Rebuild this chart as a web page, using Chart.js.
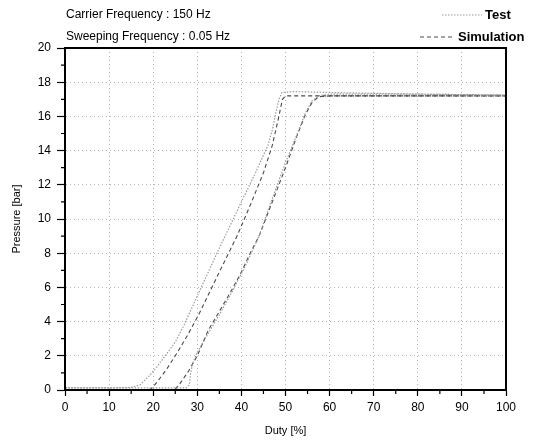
<!DOCTYPE html>
<html>
<head>
<meta charset="utf-8">
<script src="https://cdn.jsdelivr.net/npm/chart.js@4"></script>
<style>
  html, body { margin: 0; padding: 0; background: #fff; }
  #wrap { width: 537px; height: 440px; }
</style>
</head>
<body>
<div id="wrap"><canvas id="pressure-chart" width="537" height="440"></canvas></div>
<script>
const testUpDuty = [0, 10, 15, 17, 19, 21, 23, 25, 27, 30, 35, 40, 43, 46, 47, 47.8, 48.5, 49.2, 52, 60, 80, 100];
const testUpPressure = [0.12, 0.12, 0.15, 0.3, 0.8, 1.4, 2.1, 2.8, 3.8, 5.5, 8.3, 11.0, 12.6, 14.3, 15.2, 16.2, 17.0, 17.4, 17.45, 17.4, 17.3, 17.25];
const testDownDuty = [100, 80, 60, 57.5, 56, 54.5, 53, 50, 47, 44, 41, 38, 35, 32, 30, 29, 28.5, 28.2, 27.5, 0];
const testDownPressure = [17.25, 17.3, 17.3, 17.2, 16.9, 16.2, 15.2, 13.3, 11.2, 9.0, 7.3, 5.8, 4.4, 3.1, 2.2, 1.6, 1.0, 0.3, 0.12, 0.12];

const simUpDuty = [0, 18, 19.5, 21, 23, 25.5, 28, 30.5, 35, 39, 42, 45, 47, 48.5, 49.3, 50, 60, 100];
const simUpPressure = [0, 0, 0.05, 0.5, 1.2, 2.2, 3.3, 4.5, 6.9, 9.0, 10.8, 12.7, 14.3, 16.0, 17.0, 17.2, 17.2, 17.2];
const simDownDuty = [100, 60, 57.5, 56, 54.5, 52.5, 50, 47, 44, 42, 40, 37.5, 35, 32.5, 30, 28, 26, 25, 24, 0];
const simDownPressure = [17.2, 17.2, 17.15, 16.8, 16.1, 14.8, 13.0, 11.0, 9.0, 8.0, 6.9, 5.7, 4.6, 3.5, 2.0, 1.1, 0.35, 0.05, 0, 0];

const headerLines = ["Carrier Frequency : 150 Hz", "Sweeping Frequency : 0.05 Hz"];
const legendNames = ["Test", "Simulation"];

const FONT = "'Liberation Sans', Arial, sans-serif";
const testStyle = { color: '#9a9a9a', dash: [1.5, 1.5], width: 1.2 };
const simStyle = { color: '#4a4a4a', dash: [4, 3], width: 1.1 };

function toPoints(xs, ys) {
  return xs.map((x, i) => ({ x: x, y: ys[i] }));
}

function lineSet(label, xs, ys, st) {
  return {
    label: label,
    data: toPoints(xs, ys),
    borderColor: st.color,
    borderDash: st.dash,
    borderWidth: st.width,
    pointRadius: 0,
    fill: false,
    tension: 0
  };
}

const framePlugin = {
  id: 'frame',
  afterDraw(chart) {
    const ctx = chart.ctx;
    const a = chart.chartArea;
    const xs = chart.scales.x;
    const ys = chart.scales.y;
    ctx.save();
    ctx.strokeStyle = '#000';
    ctx.lineWidth = 2;
    ctx.strokeRect(a.left, a.top, a.right - a.left, a.bottom - a.top);

    // minor ticks
    ctx.lineWidth = 1.2;
    ctx.beginPath();
    for (let v = 5; v < 100; v += 10) {
      const px = xs.getPixelForValue(v);
      ctx.moveTo(px, a.bottom);
      ctx.lineTo(px, a.bottom + 4);
    }
    for (let v = 1; v < 20; v += 2) {
      const py = ys.getPixelForValue(v);
      ctx.moveTo(a.left, py);
      ctx.lineTo(a.left - 4, py);
    }
    ctx.stroke();

    // header text
    ctx.fillStyle = '#000';
    ctx.font = '12px ' + FONT;
    ctx.textBaseline = 'middle';
    ctx.textAlign = 'left';
    ctx.fillText(headerLines[0], 66, 15);
    ctx.fillText(headerLines[1], 66, 37);

    // legend, text pushed to the right edge
    const rows = [[legendNames[0], testStyle, 15, 442, 482, 485], [legendNames[1], simStyle, 37, 420, 455, 458]];
    rows.forEach(r => {
      const st = r[1];
      ctx.strokeStyle = st.color;
      ctx.lineWidth = st.width;
      ctx.setLineDash(st.dash);
      ctx.beginPath();
      ctx.moveTo(r[3], r[2]);
      ctx.lineTo(r[4], r[2]);
      ctx.stroke();
      ctx.setLineDash([]);
      ctx.font = 'bold 13px ' + FONT;
      ctx.fillText(r[0], r[5], r[2]);
    });
    ctx.restore();
  }
};

window.onload = function () {
  const ctx = document.getElementById('pressure-chart').getContext('2d');
  new Chart(ctx, {
    type: 'line',
    data: {
      datasets: [
        lineSet('Test', testUpDuty, testUpPressure, testStyle),
        lineSet('Test', testDownDuty, testDownPressure, testStyle),
        lineSet('Simulation', simUpDuty, simUpPressure, simStyle),
        lineSet('Simulation', simDownDuty, simDownPressure, simStyle)
      ]
    },
    options: {
      responsive: false,
      animation: false,
      layout: { padding: { top: 48, right: 31, left: 0, bottom: 0 } },
      plugins: {
        legend: { display: false },
        tooltip: { enabled: false }
      },
      scales: {
        x: {
          type: 'linear',
          min: 0,
          max: 100,
          afterFit(scale) { scale.height = 50; },
          ticks: { stepSize: 10, padding: 4, color: '#000', font: { family: FONT, size: 12 } },
          grid: { color: '#b5b5b5', lineWidth: 1, tickColor: '#000', tickLength: 6, tickWidth: 1.2 },
          border: { display: true, color: '#000', width: 2, dash: [1, 3] },
          title: { display: true, text: 'Duty [%]', color: '#000', font: { family: FONT, size: 11 }, padding: { top: 0, bottom: 2 } }
        },
        y: {
          min: 0,
          max: 20,
          afterFit(scale) { scale.width = 65; },
          ticks: { stepSize: 2, padding: 6, color: '#000', font: { family: FONT, size: 12 } },
          grid: { color: '#b5b5b5', lineWidth: 1, tickColor: '#000', tickLength: 8, tickWidth: 1.2 },
          border: { display: true, color: '#000', width: 2, dash: [1, 3] },
          title: { display: true, text: 'Pressure [bar]', color: '#000', font: { family: FONT, size: 11 }, padding: { top: 10, bottom: 0 } }
        }
      }
    },
    plugins: [framePlugin]
  });
};
</script>
</body>
</html>
